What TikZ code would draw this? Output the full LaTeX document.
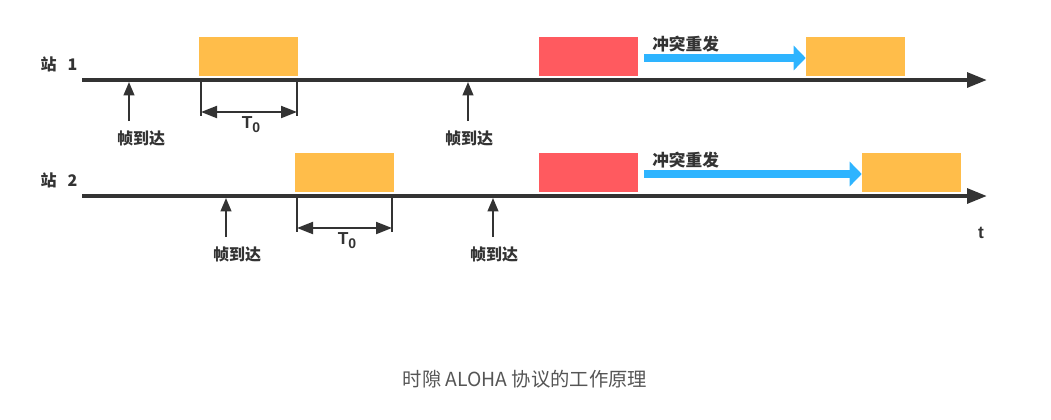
\documentclass[tikz,border=0pt]{standalone}
\usepackage{fontspec}
\setmainfont{Liberation Sans}
\newfontfamily\cjk{Noto Sans CJK SC}
\usetikzlibrary{arrows.meta}
\definecolor{frameorange}{HTML}{FFBD4A}
\definecolor{collred}{HTML}{FF5A5F}
\definecolor{retryblue}{HTML}{2EB4FF}
\definecolor{inkgray}{HTML}{333333}
\definecolor{capgray}{HTML}{555555}
\tikzset{
    timeline/.style={line width=3pt, draw=inkgray, -{Triangle[length=15pt, width=11pt]}},
    framebox/.style={fill=frameorange, minimum width=74.25pt, minimum height=29.25pt, inner sep=0pt},
    collbox/.style={fill=collred, minimum width=74.25pt, minimum height=29.25pt, inner sep=0pt},
    retry/.style={line width=6pt, draw=retryblue, -{Triangle[length=9pt, width=18pt]}},
    arrival/.style={line width=1.5pt, draw=inkgray, -{Triangle[length=10pt, width=8pt]}},
    slotmark/.style={line width=1.5pt, draw=inkgray},
    slotspan/.style={line width=1.5pt, draw=inkgray, {Triangle[length=12pt, width=9pt]}-{Triangle[length=12pt, width=9pt]}},
    lbl/.style={text=inkgray, font=\cjk\bfseries\fontsize{12}{14}\selectfont, inner sep=0pt}
}
\begin{document}
\begin{tikzpicture}[x=0.75pt, y=-0.75pt]
    \useasboundingbox (0,0) rectangle (1051,419);

    % station 1
    \node[lbl] (st1) at (59,64) {站\hspace{0.7em}1};
    \coordinate (s1start) at (82,80);
    \coordinate (s1end) at (987,80);
    \draw[timeline] (s1start) -- (s1end);
    \node[framebox] (s1frame) at (248.5,56.5) {};
    \node[collbox] (s1coll) at (588.5,56.5) {};
    \node[framebox] (s1resend) at (855.5,56.5) {};
    \coordinate (s1retry) at (644,58);
    \draw[retry] (s1retry) -- (s1retry -| s1resend.west);
    \node[lbl, anchor=west, font=\cjk\bfseries\fontsize{12.5}{14}\selectfont] (s1retrytxt) at (652,44) {冲突重发};

    \coordinate (s1arr1) at (129,82);
    \draw[arrival] (129,121) -- (s1arr1);
    \node[lbl] (s1arrtxt1) at (141,138) {帧到达};
    \coordinate (s1arr2) at (468,82);
    \draw[arrival] (468,121) -- (s1arr2);
    \node[lbl] (s1arrtxt2) at (469,138) {帧到达};

    \coordinate (s1t0a) at (201,80);
    \coordinate (s1t0b) at (297,80);
    \draw[slotmark] (s1t0a) -- ++(0,36);
    \draw[slotmark] (s1t0b) -- ++(0,36);
    \draw[slotspan] ([yshift=-24pt]s1t0a) -- ([yshift=-24pt]s1t0b);
    \node[text=inkgray, font=\bfseries\fontsize{13}{14}\selectfont] (s1t0) at (251,125) {T\raisebox{-0.45ex}{\fontsize{10.5}{10}\selectfont 0}};

    % station 2
    \node[lbl] (st2) at (59,180) {站\hspace{0.7em}2};
    \coordinate (s2start) at (82,196);
    \coordinate (s2end) at (987,196);
    \draw[timeline] (s2start) -- (s2end);
    \node[framebox] (s2frame) at (344.5,172.5) {};
    \node[collbox] (s2coll) at (588.5,172.5) {};
    \node[framebox] (s2resend) at (911.5,172.5) {};
    \coordinate (s2retry) at (644,174);
    \draw[retry] (s2retry) -- (s2retry -| s2resend.west);
    \node[lbl, anchor=west, font=\cjk\bfseries\fontsize{12.5}{14}\selectfont] (s2retrytxt) at (652,160) {冲突重发};

    \coordinate (s2arr1) at (226,198);
    \draw[arrival] (226,237) -- (s2arr1);
    \node[lbl] (s2arrtxt1) at (237,254) {帧到达};
    \coordinate (s2arr2) at (493,198);
    \draw[arrival] (493,237) -- (s2arr2);
    \node[lbl] (s2arrtxt2) at (494,254) {帧到达};

    \coordinate (s2t0a) at (297,196);
    \coordinate (s2t0b) at (392,196);
    \draw[slotmark] (s2t0a) -- ++(0,36);
    \draw[slotmark] (s2t0b) -- ++(0,36);
    \draw[slotspan] ([yshift=-24pt]s2t0a) -- ([yshift=-24pt]s2t0b);
    \node[text=inkgray, font=\bfseries\fontsize{13}{14}\selectfont] (s2t0) at (347,241) {T\raisebox{-0.45ex}{\fontsize{10.5}{10}\selectfont 0}};

    \node[text=inkgray, font=\bfseries\fontsize{13}{14}\selectfont] (taxis) at (981,233) {t};

    % caption
    \node[text=capgray, font=\cjk\fontsize{14.5}{16}\selectfont] (caption) at (525,379) {时隙 ALOHA 协议的工作原理};
\end{tikzpicture}
\end{document}
